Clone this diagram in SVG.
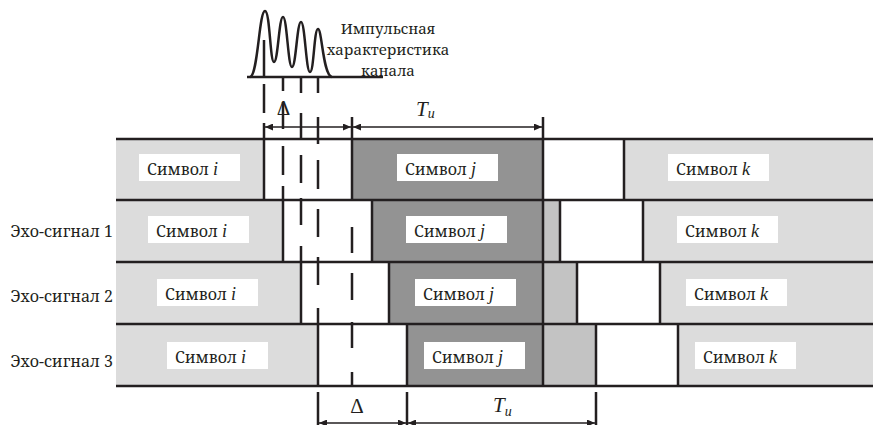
<svg xmlns="http://www.w3.org/2000/svg" width="873" height="425" viewBox="0 0 873 425">
<style>
.lg{fill:#dcdcdc}.dg{fill:#939393}.mg{fill:#c3c3c3}.wh{fill:#ffffff}
.bd{stroke:#231f20;stroke-width:2.5;fill:none}
.ds{stroke:#231f20;stroke-width:2.5;fill:none}
.dim{stroke:#231f20;stroke-width:1.5;fill:none}
text{fill:#231f20}
.t{font-family:'Noto Serif','Liberation Serif',serif;font-size:16px}
.cap{font-family:'Noto Serif','Liberation Serif',serif;font-size:15px}
.it{font-family:'Liberation Serif',serif;font-style:italic;font-size:18px}
.big{font-family:'Liberation Serif',serif;font-size:21px}
</style>
<defs>
<marker id="ah" markerUnits="userSpaceOnUse" markerWidth="8" markerHeight="7" refX="8" refY="3.5" orient="auto-start-reverse">
<path d="M0,0 L8,3.5 L0,7 z" fill="#231f20"/>
</marker>
</defs>
<rect width="873" height="425" fill="#ffffff"/>

<g id="pulse">
<line class="bd" x1="247" y1="77" x2="383" y2="77"/>
<path class="bd" d="M250 77 C258 76,259 11,265 11 C270 11,270 62,274 62 C278 62,279 17,283 17 C287 17,288 67,292 67 C296 67,297 22,301 22 C305 22,306 72,310 72 C314 72,314 29,318 29 C322 29,323 76,332 77"/>
<text class="cap" x="388" y="34" text-anchor="middle">Импульсная</text>
<text class="cap" x="388" y="55" text-anchor="middle">характеристика</text>
<text class="cap" x="388" y="76" text-anchor="middle">канала</text>
</g>

<g id="row0">
<rect class="lg" x="116" y="139" width="148" height="61"/>
<rect class="wh" x="264" y="139" width="88" height="61"/>
<rect class="dg" x="352" y="139" width="191" height="61"/>
<rect class="wh" x="543" y="139" width="81" height="61"/>
<rect class="lg" x="624" y="139" width="249" height="61"/>
<path class="bd" d="M264 139V200 M352 139V200 M543 139V200 M624 139V200"/>
<rect class="wh" x="139" y="154" width="101" height="27"/>
<text class="t" x="147" y="175">Символ <tspan class="it">i</tspan></text>
<rect class="wh" x="397" y="154" width="101" height="27"/>
<text class="t" x="405" y="175">Символ <tspan class="it">j</tspan></text>
<rect class="wh" x="668" y="154" width="101" height="27"/>
<text class="t" x="676" y="175">Символ <tspan class="it">k</tspan></text>
</g>

<g id="row1">
<rect class="lg" x="116" y="200" width="167" height="62"/>
<rect class="wh" x="283" y="200" width="89" height="62"/>
<rect class="dg" x="372" y="200" width="171" height="62"/>
<rect class="mg" x="543" y="200" width="17" height="62"/>
<rect class="wh" x="560" y="200" width="83" height="62"/>
<rect class="lg" x="643" y="200" width="230" height="62"/>
<path class="bd" d="M283 200V262 M372 200V262 M543 200V262 M560 200V262 M643 200V262"/>
<text class="t" x="113" y="237" text-anchor="end">Эхо-сигнал 1</text>
<rect class="wh" x="148" y="216" width="101" height="27"/>
<text class="t" x="156" y="237">Символ <tspan class="it">i</tspan></text>
<rect class="wh" x="406" y="216" width="101" height="27"/>
<text class="t" x="414" y="237">Символ <tspan class="it">j</tspan></text>
<rect class="wh" x="677" y="216" width="101" height="27"/>
<text class="t" x="685" y="237">Символ <tspan class="it">k</tspan></text>
</g>

<g id="row2">
<rect class="lg" x="116" y="262" width="185" height="62"/>
<rect class="wh" x="301" y="262" width="88" height="62"/>
<rect class="dg" x="389" y="262" width="154" height="62"/>
<rect class="mg" x="543" y="262" width="34" height="62"/>
<rect class="wh" x="577" y="262" width="83" height="62"/>
<rect class="lg" x="660" y="262" width="213" height="62"/>
<path class="bd" d="M301 262V324 M389 262V324 M543 262V324 M577 262V324 M660 262V324"/>
<text class="t" x="113" y="302" text-anchor="end">Эхо-сигнал 2</text>
<rect class="wh" x="157" y="279" width="101" height="27"/>
<text class="t" x="165" y="300">Символ <tspan class="it">i</tspan></text>
<rect class="wh" x="415" y="279" width="101" height="27"/>
<text class="t" x="423" y="300">Символ <tspan class="it">j</tspan></text>
<rect class="wh" x="686" y="279" width="101" height="27"/>
<text class="t" x="694" y="300">Символ <tspan class="it">k</tspan></text>
</g>

<g id="row3">
<rect class="lg" x="116" y="324" width="202" height="62"/>
<rect class="wh" x="318" y="324" width="89" height="62"/>
<rect class="dg" x="407" y="324" width="136" height="62"/>
<rect class="mg" x="543" y="324" width="53" height="62"/>
<rect class="wh" x="596" y="324" width="82" height="62"/>
<rect class="lg" x="678" y="324" width="195" height="62"/>
<path class="bd" d="M318 324V386 M407 324V386 M543 324V386 M596 324V386 M678 324V386"/>
<text class="t" x="113" y="367" text-anchor="end">Эхо-сигнал 3</text>
<rect class="wh" x="167" y="342" width="101" height="27"/>
<text class="t" x="175" y="363">Символ <tspan class="it">i</tspan></text>
<rect class="wh" x="424" y="342" width="101" height="27"/>
<text class="t" x="432" y="363">Символ <tspan class="it">j</tspan></text>
<rect class="wh" x="695" y="342" width="101" height="27"/>
<text class="t" x="703" y="363">Символ <tspan class="it">k</tspan></text>
</g>

<g id="grid">
<path class="bd" d="M116 139H873 M116 200H873 M116 262H873 M116 324H873 M116 386H873"/>
</g>

<g id="connectors">
<path class="ds" d="M264 40V77 M264 84V113 M264 123V139
M283 77V91 M283 102V129 M283 146V175 M283 186V200
M301 77V93 M301 113V138 M301 155V183 M301 198V225 M301 246V262
M318 77V93 M318 117V144 M318 160V189 M318 209V237 M318 257V285 M318 308V324
M352 227V253 M352 273V300 M352 322V348 M352 372V386"/>
<path class="bd" d="M352 117V139 M543 117V139 M318 392V425 M407 392V425 M596 392V425"/>
<line class="dim" x1="265" y1="127" x2="351" y2="127" marker-start="url(#ah)" marker-end="url(#ah)"/>
<line class="dim" x1="353" y1="127" x2="542" y2="127" marker-start="url(#ah)" marker-end="url(#ah)"/>
<line class="dim" x1="319" y1="423" x2="406" y2="423" marker-start="url(#ah)" marker-end="url(#ah)"/>
<line class="dim" x1="408" y1="423" x2="595" y2="423" marker-start="url(#ah)" marker-end="url(#ah)"/>
<text class="big" x="283.5" y="115" text-anchor="middle" font-size="19">Δ</text>
<text class="big" x="416" y="116" font-style="italic">T<tspan font-size="14" dy="2">и</tspan></text>
<text class="big" x="357" y="413" text-anchor="middle">Δ</text>
<text class="big" x="493" y="412" font-style="italic">T<tspan font-size="14" dy="4">и</tspan></text>
</g>
</svg>
